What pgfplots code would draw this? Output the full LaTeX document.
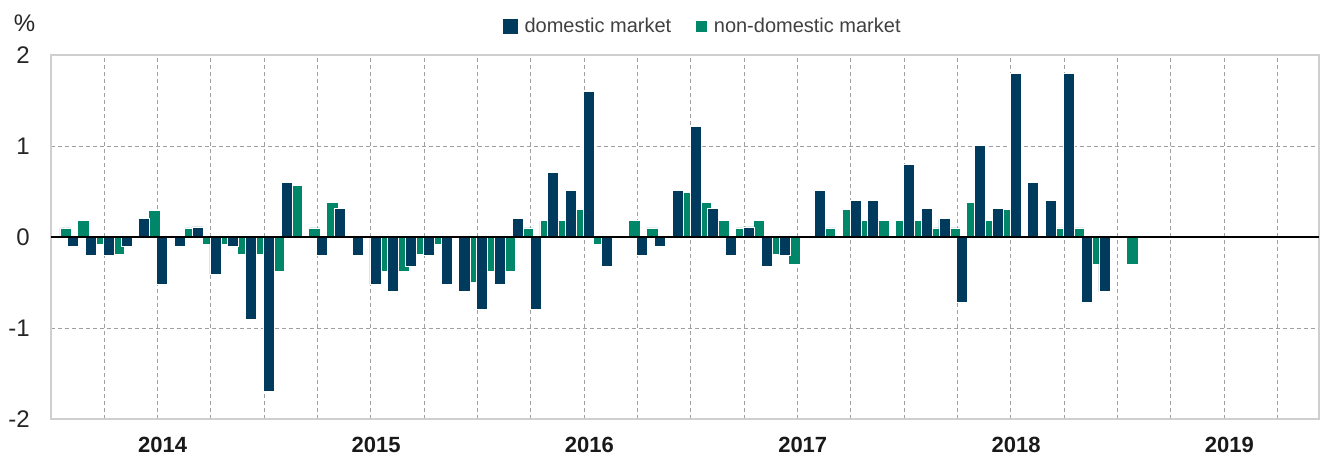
\documentclass[border=0pt]{standalone}
\usepackage{pgfplots}
\pgfplotsset{compat=1.18}
\usepackage{pgfplotstable}
\usepackage{fontspec}
\setmainfont{Liberation Sans}
\definecolor{navyc}{HTML}{003A5D}
\definecolor{greenc}{HTML}{008769}
\definecolor{framec}{HTML}{CFCFCF}
\definecolor{gridc}{HTML}{A0A0A0}

\pgfplotstableread{
m d n
0 0 0.1
1 -0.1 0.18
2 -0.2 -0.08
3 -0.2 -0.19
4 -0.1 0
5 0.2 0.29
6 -0.52 0
7 -0.1 0.1
8 0.11 -0.08
9 -0.41 -0.08
10 -0.1 -0.19
11 -0.91 -0.19
12 -1.70 -0.38
13 0.6 0.57
14 0 0.1
15 -0.2 0.38
16 0.31 0
17 -0.2 0
18 -0.52 -0.38
19 -0.6 -0.38
20 -0.32 -0.19
21 -0.2 -0.08
22 -0.52 0
23 -0.6 -0.5
24 -0.8 -0.38
25 -0.52 -0.38
26 0.2 0.1
27 -0.8 0.18
28 0.71 0.18
29 0.51 0.3
30 1.6 -0.08
31 -0.32 0
32 0 0.18
33 -0.2 0.1
34 -0.1 0
35 0.51 0.49
36 1.21 0.38
37 0.31 0.18
38 -0.2 0.1
39 0.11 0.18
40 -0.32 -0.19
41 -0.2 -0.3
42 0 0
43 0.51 0.1
44 0 0.3
45 0.4 0.18
46 0.4 0.18
47 0 0.18
48 0.8 0.18
49 0.31 0.1
50 0.2 0.1
51 -0.72 0.38
52 1.01 0.18
53 0.31 0.3
54 1.8 0
55 0.6 0
56 0.4 0.1
57 1.8 0.1
58 -0.72 -0.3
59 -0.6 0
60 0 -0.3
}\data

\begin{document}
\begin{tikzpicture}
\useasboundingbox (0,0) rectangle (660pt,227.5pt);
\begin{axis}[
  at={(25.33pt,18pt)}, anchor=south west,
  scale only axis, width=634.2pt, height=182pt,
  xmin=0, xmax=71.34, ymin=-2, ymax=2,
  xtick={3,6,...,69}, xticklabels={},
  extra x ticks={6.3,18.3,30.3,42.3,54.3,66.3},
  extra x tick labels={2014,2015,2016,2017,2018,2019},
  extra x tick style={grid=none, major tick length=0pt,
    xticklabel style={font=\fontsize{11}{12}\selectfont\bfseries, anchor=base, yshift=-16.5pt, inner sep=0pt, text=black!90}},
  ytick={-2,-1,0,1,2}, yticklabels={-2,-1,0,1,2},
  yticklabel style={font=\fontsize{12}{14}\selectfont, anchor=east, inner sep=0pt, xshift=-10.3pt, text=black!85},
  major tick length=0pt,
  xmajorgrids, ymajorgrids,
  grid style={gridc, dash pattern=on 2pt off 1.5pt, line width=0.5pt},
  axis line style={framec, line width=1pt},
  legend style={at={(0.3566,1)}, anchor=west, yshift=14.25pt, draw=none, fill=none,
    legend columns=2, font=\fontsize{10}{12}\selectfont, text=black!75, inner sep=0pt,
    nodes={inner sep=1.2pt},
    /tikz/every even column/.append style={column sep=10pt}},
  legend cell align=left,
]
\addlegendimage{legend image code/.code={\fill[navyc] (0pt,-3.5pt) rectangle (7pt,3.5pt); \path (9pt,0pt);}}
\addlegendentry{domestic market}
\addlegendimage{legend image code/.code={\fill[greenc] (1pt,-2.5pt) rectangle (6pt,2.5pt); \path (0pt,0pt) (8.5pt,0pt);}}
\addlegendentry{non-domestic market}

\addplot[ybar, bar width=0.64, bar shift=0pt, fill=greenc, draw=white, line width=0.4pt, forget plot]
  table[x expr=\thisrow{m}+0.84, y=n]{\data};
\addplot[ybar, bar width=0.62, bar shift=0pt, fill=navyc, draw=white, line width=0.4pt, forget plot]
  table[x expr=\thisrow{m}+0.27, y=d]{\data};
\draw[black, line width=1pt] (axis cs:0,0) -- (axis cs:71.34,0);
\end{axis}
\node[font=\fontsize{12}{14}\selectfont, text=black!85] at (12.25pt,215.75pt) {\%};
\end{tikzpicture}
\end{document}
